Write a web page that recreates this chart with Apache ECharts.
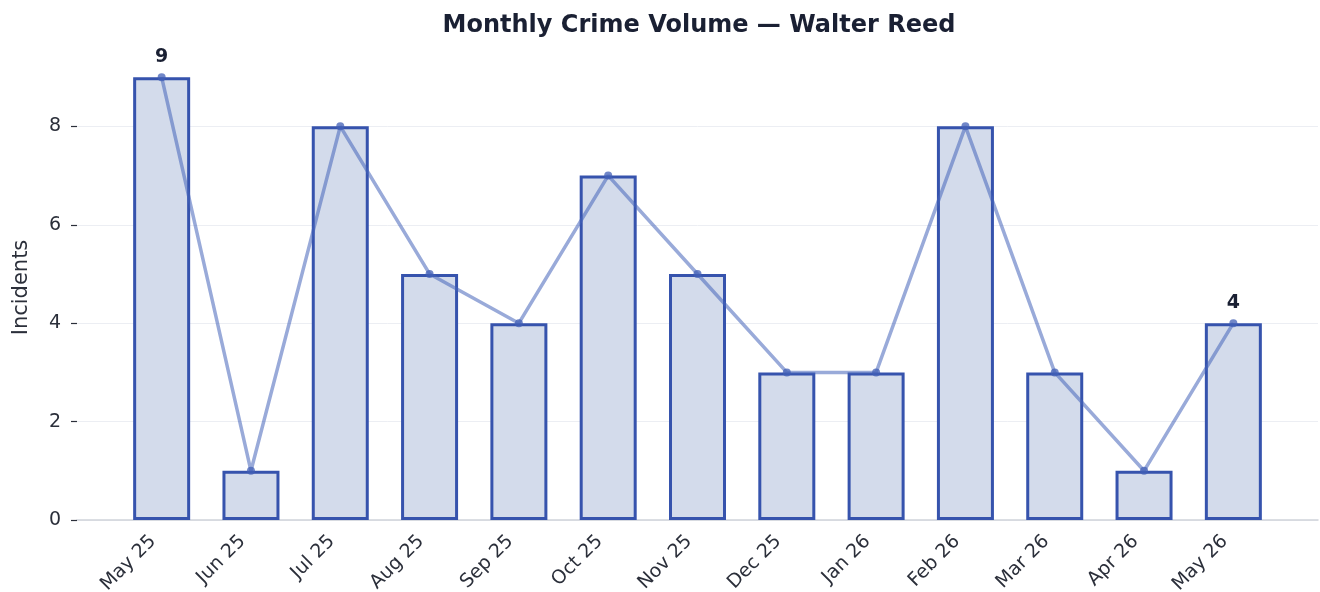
<!DOCTYPE html>
<html>
<head>
<meta charset="utf-8">
<script src="https://cdn.jsdelivr.net/npm/echarts@6/dist/echarts.min.js"></script>
<style>
html, body { margin: 0; padding: 0; background: #fff; }
#main { width: 1320px; height: 592px; }
</style>
</head>
<body>
<div id="main"></div>
<script>
var months = ['May 25', 'Jun 25', 'Jul 25', 'Aug 25', 'Sep 25', 'Oct 25', 'Nov 25',
              'Dec 25', 'Jan 26', 'Feb 26', 'Mar 26', 'Apr 26', 'May 26'];
var incidents = [9, 1, 8, 5, 4, 7, 5, 3, 3, 8, 3, 1, 4];
var yTicks = { min: 0, max: 9.45, interval: 2 };

var font = 'DejaVu Sans';
var myChart = echarts.init(document.getElementById('main'));

// label only the peak and the latest month
var peak = Math.max.apply(null, incidents);
var lineData = incidents.map(function (v, i) {
    var show = (v === peak && incidents.indexOf(peak) === i) || i === incidents.length - 1;
    return { value: v, label: { show: show } };
});

option = {
    backgroundColor: '#fff',
    animation: false,
    title: {
        text: 'Monthly Crime Volume — Walter Reed',
        left: 694,
        textAlign: 'center',
        top: 9,
        textStyle: { fontFamily: font, fontSize: 24, fontWeight: 'bold', color: '#1a2033' }
    },
    grid: [
        { left: 77, right: 2, top: 55, bottom: 72, outerBoundsMode: 'none' },
        { left: 117, right: 42, top: 55, bottom: 72, outerBoundsMode: 'none' }
    ],
    xAxis: [
        {
            gridIndex: 0, type: 'value', min: 0, max: 1,
            axisLine: { show: true, lineStyle: { color: '#d0d3da', width: 1.5 } },
            axisTick: { show: false }, axisLabel: { show: false }, splitLine: { show: false }
        },
        {
            gridIndex: 1, type: 'category', data: months,
            axisLine: { show: false },
            axisTick: { show: false },
            axisLabel: {
                rotate: 45, interval: 0, margin: 10,
                padding: [0, 12, 0, 0],
                fontFamily: font, fontSize: 19, color: '#2b2f3a'
            }
        }
    ],
    yAxis: [
        {
            gridIndex: 0, type: 'value', min: yTicks.min, max: yTicks.max, interval: yTicks.interval,
            name: 'Incidents', nameLocation: 'middle', nameGap: 45,
            nameTextStyle: { fontFamily: font, fontSize: 21, color: '#2b2f3a' },
            axisLine: { show: false },
            axisTick: { show: true, length: 6, lineStyle: { color: '#2b2f3a', width: 1.2 } },
            axisLabel: {
                fontFamily: font, fontSize: 19, color: '#2b2f3a', margin: 16,
                showMaxLabel: false
            },
            splitLine: { show: true, showMaxLine: false, lineStyle: { color: '#eceef3', width: 1 } }
        },
        {
            gridIndex: 1, type: 'value', min: yTicks.min, max: yTicks.max, interval: yTicks.interval,
            show: false, splitLine: { show: false }
        }
    ],
    series: [
        {
            name: 'Incidents',
            type: 'bar',
            xAxisIndex: 1, yAxisIndex: 1,
            data: incidents,
            barWidth: 57,
            itemStyle: { color: '#d3dbeb', borderColor: '#3653ad', borderWidth: 3 },
            z: 2
        },
        {
            name: 'Trend',
            type: 'line',
            xAxisIndex: 1, yAxisIndex: 1,
            data: lineData,
            symbol: 'circle',
            symbolSize: 8,
            lineStyle: { color: 'rgba(70,100,185,0.55)', width: 3.5 },
            itemStyle: { color: 'rgba(65,95,182,0.75)' },
            label: {
                position: 'top', distance: 7,
                fontFamily: font, fontSize: 19, fontWeight: 'bold', color: '#1a2033'
            },
            z: 3
        }
    ]
};

myChart.setOption(option);
</script>
</body>
</html>
